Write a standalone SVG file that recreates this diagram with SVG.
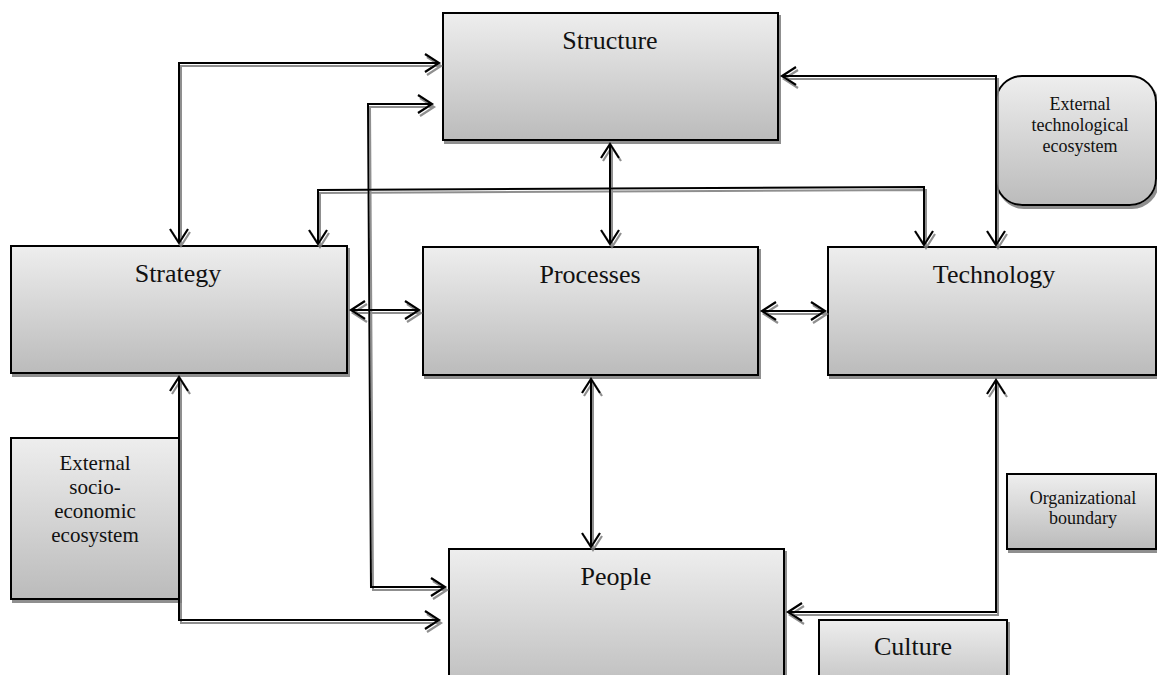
<svg xmlns="http://www.w3.org/2000/svg" width="1157" height="675" viewBox="0 0 1157 675">
<defs>
<linearGradient id="g" x1="0" y1="0" x2="0" y2="1">
<stop offset="0" stop-color="#eeeeee"/>
<stop offset="1" stop-color="#bbbbbb"/>
</linearGradient>
<filter id="sh" x="-10%" y="-10%" width="120%" height="120%">
<feDropShadow dx="2" dy="3" stdDeviation="0.6" flood-color="#7a7a7a" flood-opacity="0.85"/>
</filter>
<marker id="ah" markerUnits="userSpaceOnUse" markerWidth="24" markerHeight="24" refX="0" refY="0" viewBox="-18 -12 20 24" orient="auto-start-reverse" overflow="visible">
<path d="M-14,-9 L0,0 L-14,9" fill="none" stroke="#000" stroke-width="2.2" stroke-linejoin="miter"/>
</marker>
</defs>
<style>
.box{fill:url(#g);stroke:#000;stroke-width:2;filter:url(#sh)}
.big{font-family:"Liberation Serif","Times New Roman",serif;font-size:26px;fill:#111;text-anchor:middle}
.sm{font-family:"Liberation Serif","Times New Roman",serif;font-size:18px;fill:#111;text-anchor:middle}
.md{font-family:"Liberation Serif","Times New Roman",serif;font-size:21px;fill:#111;text-anchor:middle}
.c{fill:none;stroke:#000;stroke-width:2;marker-start:url(#ah);marker-end:url(#ah)}
</style>
<rect width="1157" height="675" fill="#fff"/>
<g id="structure"><rect class="box" x="443" y="13" width="335" height="127"/><text class="big" x="610" y="49">Structure</text></g>
<g id="strategy"><rect class="box" x="11" y="246" width="336" height="127"/><text class="big" x="178" y="282">Strategy</text></g>
<g id="processes"><rect class="box" x="423" y="247" width="335" height="128"/><text class="big" x="590" y="283">Processes</text></g>
<g id="technology"><rect class="box" x="828" y="247" width="328" height="128"/><text class="big" x="994" y="283">Technology</text></g>
<g id="people"><rect class="box" x="449" y="549" width="335" height="150"/><text class="big" x="616" y="585">People</text></g>
<g id="culture"><rect class="box" x="819" y="620" width="188" height="80"/><text class="big" x="913" y="655">Culture</text></g>
<g id="org-boundary"><rect class="box" x="1007" y="474" width="149" height="75"/><text class="sm" x="1083" y="504">Organizational</text><text class="sm" x="1083" y="524">boundary</text></g>
<g id="ext-tech"><rect class="box" x="996" y="76" width="160" height="129" rx="26" ry="26"/><text class="sm" x="1080" y="110">External</text><text class="sm" x="1080" y="131">technological</text><text class="sm" x="1080" y="152">ecosystem</text></g>
<g id="ext-socio"><rect class="box" x="11" y="438" width="168" height="161"/><text class="md" x="95" y="470">External</text><text class="md" x="95" y="494">socio-</text><text class="md" x="95" y="518">economic</text><text class="md" x="95" y="542">ecosystem</text></g>
<g id="connectors" filter="url(#sh)">
<path class="c" d="M179,243 L179,63 L439,63"/>
<path class="c" d="M610,144 L610,244"/>
<path class="c" d="M318,244 L318,190 L924,187 L924,245"/>
<path class="c" d="M782,76 L996,76 L996,245"/>
<path class="c" d="M351,310 L419,310"/>
<path class="c" d="M762,311 L825,311"/>
<path class="c" d="M591,379 L591,547"/>
<path class="c" d="M432,104 L368,104 L371,587 L445,587"/>
<path class="c" d="M179,377 L179,620 L439,620"/>
<path class="c" d="M996,380 L996,612 L788,612"/>
</g>
</svg>
